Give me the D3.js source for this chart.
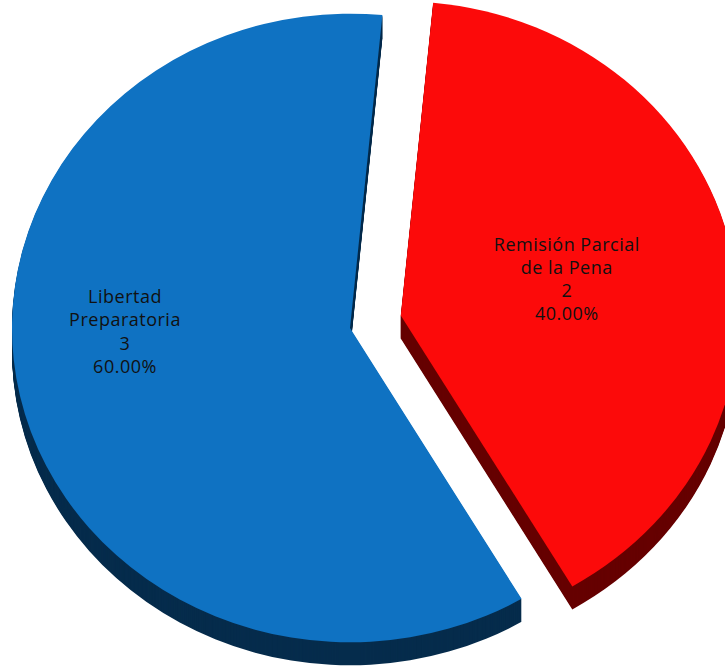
<!DOCTYPE html>
<html>
<head>
<meta charset="utf-8">
<script src="https://cdn.jsdelivr.net/npm/d3@7"></script>
<style>
  html, body { margin: 0; padding: 0; background: #fff; }
  svg { display: block; }
</style>
</head>
<body>
<svg id="chart" width="725" height="668"></svg>
<script>
// datos
var categorias = ["Remisión Parcial de la Pena", "Libertad Preparatoria"];
var valores = [2, 3];
var porcentajes = ["40.00%", "60.00%"];

var colores = ["#fc0a0a", "#0f72c2"];
var coloresLado = ["#660000", "#062c4c"];

// medidas del pastel (vista inclinada)
var width = 725, height = 668;
var cx = 350, cy = 328;
var radio = 338;
var ratio = 0.93;      // inclinacion
var grosor = 23;       // profundidad
var separacion = 52;   // slice separado
// posicion de las etiquetas respecto al vertice de cada rebanada
var etiquetaPos = [[166, -36], [-225, 4]];

var svg = d3.select("#chart");

var pie = d3.pie()
    .sort(null)
    .startAngle(5.5 * Math.PI / 180)
    .endAngle(5.5 * Math.PI / 180 + 2 * Math.PI)
    .value(function(d) { return d; });

var arc = d3.arc().innerRadius(0).outerRadius(radio);

var arcos = pie(valores);

// desplazamiento de cada rebanada (solo la roja se separa)
arcos.forEach(function(d, i) {
    var mid = (d.startAngle + d.endAngle) / 2;
    var dist = i == 0 ? separacion : 0;
    d.ox = cx + dist * Math.sin(mid);
    d.oy = cy - dist * Math.cos(mid) * ratio - (i == 0 ? 2 : 0);
});

// lados (copias desplazadas hacia abajo)
var lados = svg.append("g").attr("class", "lados");
arcos.forEach(function(d, i) {
    for (var k = grosor; k >= 1; k--) {
        lados.append("path")
            .attr("d", arc(d))
            .attr("transform", "translate(" + d.ox + "," + (d.oy + k) + ") scale(1," + ratio + ")")
            .style("fill", coloresLado[i]);
    }
});

// caras superiores
svg.append("g")
    .selectAll("path")
    .data(arcos)
    .enter()
    .append("path")
    .attr("d", arc)
    .attr("transform", function(d) { return "translate(" + d.ox + "," + d.oy + ") scale(1," + ratio + ")"; })
    .style("fill", function(d, i) { return colores[i]; });

// etiquetas
var etiquetas = svg.append("g")
    .selectAll("text")
    .data(arcos)
    .enter()
    .append("text")
    .attr("text-anchor", "middle")
    .style("font-family", "'Open Sans', sans-serif")
    .style("font-size", "18px")
    .style("letter-spacing", "0.5px")
    .style("fill", "#111")
    .attr("transform", function(d, i) {
        return "translate(" + (d.ox + etiquetaPos[i][0]) + "," + (d.oy + etiquetaPos[i][1]) + ")";
    });

etiquetas.each(function(d, i) {
    var lineas;
    if (i == 0) lineas = ["Remisión Parcial", "de la Pena", valores[i], porcentajes[i]];
    else lineas = ["Libertad", "Preparatoria", valores[i], porcentajes[i]];
    var t = d3.select(this);
    lineas.forEach(function(l, j) {
        t.append("tspan")
            .attr("x", 0)
            .attr("y", (j - 1.5) * 23.3 + 6)
            .text(l);
    });
});
</script>
</body>
</html>
